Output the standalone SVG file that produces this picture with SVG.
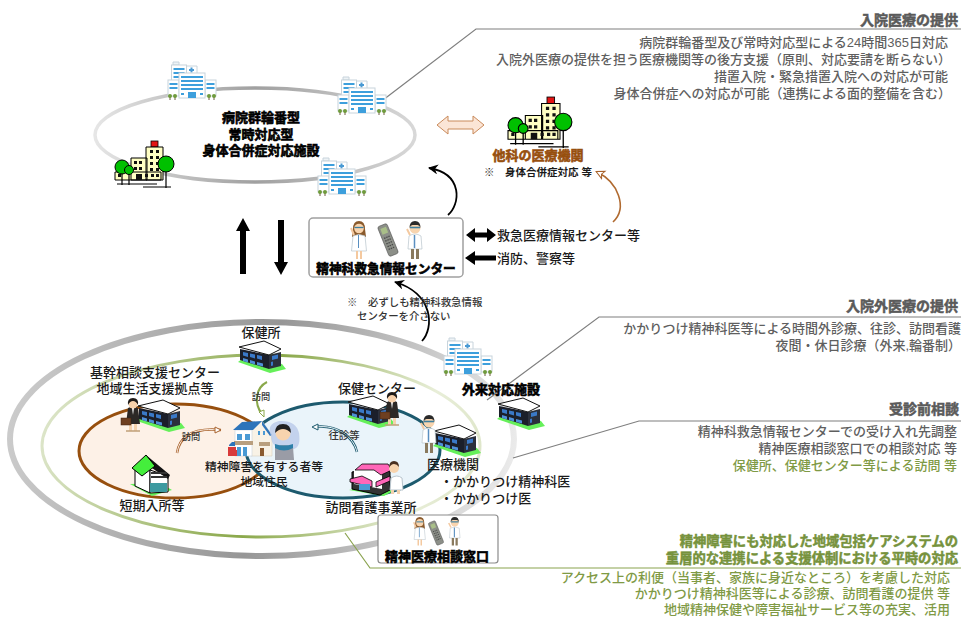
<svg xmlns="http://www.w3.org/2000/svg" width="961" height="617" viewBox="0 0 961 617">
<style>
text{font-family:"Liberation Sans","Noto Sans CJK JP",sans-serif;fill:#1a1a1a;font-size:13px;font-weight:500}
.e{text-anchor:end}.m{text-anchor:middle}
.g{fill:#5f5f5f}.gh{fill:#5a5a5a;font-weight:700;stroke:#5a5a5a;stroke-width:.5px;font-size:14px}
.l{fill:#7f9a45}.lh{fill:#76923c;font-weight:700;stroke:#76923c;stroke-width:.5px;font-size:13.3px}
.b{font-weight:700;fill:#000;stroke:#000;stroke-width:.6px;font-size:13px}
.s{font-size:10.4px;fill:#333}.x{font-size:9.2px;fill:#333}
.c{fill:none;stroke:#7f7f7f;stroke-width:1.2}
</style>
<defs>
<linearGradient id="g1" gradientUnits="userSpaceOnUse" x1="95" y1="0" x2="415" y2="0"><stop offset="0" stop-color="#e6e6e6"/><stop offset=".5" stop-color="#a0a0a0"/><stop offset="1" stop-color="#d8d8d8"/></linearGradient>
<linearGradient id="g2" gradientUnits="userSpaceOnUse" x1="9" y1="400" x2="515" y2="480"><stop offset="0" stop-color="#cccccc"/><stop offset=".5" stop-color="#969696"/><stop offset="1" stop-color="#ececec"/></linearGradient>
<linearGradient id="g3" gradientUnits="userSpaceOnUse" x1="42" y1="400" x2="480" y2="500"><stop offset="0" stop-color="#dfe7cd"/><stop offset=".5" stop-color="#8aa84a"/><stop offset=".85" stop-color="#e8eed8"/><stop offset="1" stop-color="#dde5c8"/></linearGradient>
<marker id="ab" markerUnits="userSpaceOnUse" markerWidth="12" markerHeight="12" refX="9" refY="5" orient="auto"><path d="M0,0L10,5L0,10L3,5Z" fill="#000"/></marker>
<marker id="ao" markerUnits="userSpaceOnUse" markerWidth="12" markerHeight="12" refX="8" refY="5" orient="auto"><path d="M1,1L9,5L1,9L3,5Z" fill="#fff" stroke="#a8622c"/></marker>
<symbol id="hosp" viewBox="0 0 48 38" width="48" height="38" overflow="visible">
<path d="M18,4h11v8h-11z" fill="#fff" stroke="#c8d4dc"/><path d="M22.500,5.500h2v1.500h1.500v2h-1.500v1.500h-2v-1.500h-1.500v-2h1.500z" fill="#4a9ad4"/>
<path d="M5,0h6v3h-6z" fill="#eef3f6" stroke="#c8d4dc"/>
<rect x="3.500" y="3" width="15" height="28" fill="#fff" stroke="#c8d4dc"/>
<path d="M5.500,7h11M5.500,11h11M5.500,15h11M5.500,19h11M5.500,23h11" stroke="#3d9fdc" stroke-width="2"/>
<rect x="0" y="18" width="11" height="16" fill="#fff" stroke="#c8d4dc"/><rect x="37" y="18" width="11" height="16" fill="#fff" stroke="#c8d4dc"/>
<path d="M1.500,22h8M1.500,26h8M38.500,22h8M38.500,26h8" stroke="#3d9fdc" stroke-width="2"/>
<rect x="11" y="11" width="26" height="25" fill="#fff" stroke="#c8d4dc"/>
<path d="M13,15h22M13,19h22M13,23h22M13,27h22" stroke="#3d9fdc" stroke-width="2"/>
<rect x="20" y="30" width="8" height="6" fill="#3d9fdc"/><path d="M13,31h3v2h-3zM32,31h3v2h-3z" fill="#3d9fdc"/>
<path d="M2,34v4M7,34v4M41,34v4M46,34v4" stroke="#6b5b3c"/>
<g fill="#6f9b3c"><circle cx="2" cy="34" r="2"/><circle cx="7" cy="34" r="2"/><circle cx="41" cy="34" r="2"/><circle cx="46" cy="34" r="2"/></g>
</symbol>
<symbol id="tree" viewBox="0 0 60 47" overflow="visible">
<rect x="36" y="0" width="7" height="6" fill="#e31414" stroke="#000" stroke-width=".8"/>
<path d="M31,39V6h17v33zM16,39V17h16v22zM0,39V31h46v8z" fill="#ffffc4" stroke="#000"/>
<g fill="#111"><path d="M35,9h3v3h-3zM41,9h3v3h-3zM35,15h3v3h-3zM41,15h3v3h-3zM35,21h3v3h-3zM41,21h3v3h-3zM35,27h3v3h-3zM41,27h3v3h-3zM19,20h3v3h-3zM24,20h3v3h-3zM19,26h3v3h-3zM24,26h3v3h-3zM3,33h3v3h-3zM30,33h3v3h-3zM36,33h3v3h-3zM41,33h3v3h-3z"/><path d="M21,33h6v6h-6z"/></g>
<path d="M7,30v14M14,30v14M51,28v19M2,43h40M28,46h28" stroke="#000" stroke-width="1.200"/>
<g fill="#00c000" stroke="#000"><circle cx="7" cy="26" r="7"/><circle cx="14" cy="29" r="4.500"/><circle cx="51" cy="23" r="8"/></g>
</symbol>
<symbol id="office" viewBox="0 0 48 32" width="48" height="32" overflow="visible">
<path d="M0,21L32,32L48,28L44,23L8,15Z" fill="#66f05a"/>
<path d="M2,8L31,14V28L2,19Z" fill="#1b1f2a"/><path d="M31,14L43,11V25L31,28Z" fill="#2b303c"/>
<path d="M1,6L26,0L43,8L31,14Z" fill="#fff" stroke="#111"/>
<g fill="#3a79c8"><path d="M5,11l5,1v4l-5,-1.400zM12,12.500l5,1v4l-5,-1.400zM19,14l5,1v4l-5,-1.400zM34,15l6,-1.500v4l-6,1.500zM33,21l2,-.5v4l-2,.5z"/><path d="M5,17l5,1.500v3l-5,-1.500zM12,19l5,1.500v3l-5,-1.500zM19,21l6,1.500v3l-6,-1.500z" fill="#4f8fd8"/></g>
</symbol>
<symbol id="docM" viewBox="0 0 18 40" width="18" height="40" overflow="visible">
<path d="M3,15q6,-4 12,0l1,13h-14z" fill="#fff" stroke="#b8c4cc" stroke-width=".7"/><path d="M8.500,14v13" stroke="#5a8fc0" stroke-width="1.500"/>
<path d="M4,14L1,8" stroke="#f4c9a0" stroke-width="2"/>
<path d="M5,28h3v10h-3zM10,28h3v10h-3z" fill="#8a7a5e"/>
<circle cx="9" cy="7" r="5.500" fill="#f8d4ae"/><path d="M3.500,7q0,-7 5.500,-7t5.500,7q-1,-3 -3,-3h-5q-2,0 -3,3z" fill="#2a2a2a"/>
<path d="M4,6.500h10" stroke="#3d7f9f" stroke-width="1.600"/>
</symbol>
<symbol id="docF" viewBox="0 0 18 40" width="18" height="40" overflow="visible">
<path d="M3,8q0,-8 6,-8t6,8l1,8h-14z" fill="#8a5a2c"/>
<path d="M3,15q6,-3 12,0l1.500,15h-15z" fill="#fff" stroke="#b8c4cc" stroke-width=".7"/><path d="M8.500,14v13" stroke="#5a8fc0"/>
<path d="M4,14L1,7" stroke="#f4c9a0" stroke-width="2"/>
<path d="M6,30h2v8h-2zM10,30h2v8h-2z" fill="#f4c9a0"/>
<circle cx="9" cy="7.500" r="4.800" fill="#f8d4ae"/><path d="M4.500,6.500h9" stroke="#3d7f9f" stroke-width="1.300"/>
</symbol>
<symbol id="suit" viewBox="0 0 24 34" width="24" height="34" overflow="visible">
<path d="M7,10q5,-3 10,0l2,16h-14z" fill="#2c2826"/><path d="M11,10l1,7l1,-7z" fill="#fff"/>
<path d="M8,26h3v7h-3zM13,26h3v7h-3z" fill="#f4d2ae"/><path d="M5,33h8M12,33h7" stroke="#c0a07a" stroke-width="1.500"/>
<rect x="0" y="20" width="10" height="7" fill="#6e3f20" stroke="#3c2210" stroke-width=".5"/>
<circle cx="12" cy="6" r="4.500" fill="#f6d0aa"/><path d="M7,7q-1,-7 5,-7t5,7q-2,-4 -5,-4t-5,4z" fill="#1e1a18"/>
</symbol>
<symbol id="phone" viewBox="0 0 16 32" width="16" height="32" overflow="visible">
<g transform="rotate(-22 8 16)"><rect x="3" y="0" width="10" height="32" rx="2" fill="#8c8f88" stroke="#555" stroke-width=".6"/><rect x="5" y="3" width="6" height="6" fill="#a9bf88"/><path d="M5,13h6M5,16h6M5,19h6M5,22h6M5,25h6" stroke="#4a4a4a" stroke-width="1.300" stroke-dasharray="1.500 .8"/></g>
</symbol>
</defs>

<g id="rings">
<ellipse cx="255" cy="135" rx="160" ry="47" fill="#fff" stroke="url(#g1)" stroke-width="3.500"/>
<ellipse cx="262" cy="439" rx="252" ry="117" fill="#fff" stroke="url(#g2)" stroke-width="6"/>
<ellipse cx="261" cy="446" rx="219" ry="91" fill="#fff" stroke="url(#g3)" stroke-width="3"/>
<ellipse cx="175" cy="451" rx="96" ry="47" fill="#fdf1e7" stroke="#974f0e" stroke-width="3"/>
<ellipse cx="343" cy="450" rx="97" ry="48" fill="#eaf4fa" stroke="#1d5a6e" stroke-width="3"/>
</g>

<g id="connectors">
<path class="c" d="M383,100L476,29H961"/>
<path class="c" d="M487,400L599,317H961"/>
<path class="c" d="M513,458L639,421H961"/>
<path class="c" d="M345,533L370,568H961" style="stroke:#8aa34f"/>
<path d="M448,215C460,205 464,174 429,168" fill="none" stroke="#000" stroke-width="1.800" marker-end="url(#ab)"/>
<path d="M422,341C434,328 434,294 395,282" fill="none" stroke="#000" stroke-width="1.800" marker-end="url(#ab)"/>
<path d="M613,222C628,208 618,182 597,172" fill="none" stroke="#b06a30" stroke-width="1.600" marker-end="url(#ao)"/>
<path d="M437,125l11,-9v5h25v-5l11,9l-11,9v-5h-25v5z" fill="#fbe5d6" stroke="#c98a5a"/>
<path d="M243,218l7,13h-4v43h-6v-43h-4z" fill="#000"/>
<path d="M281,275l-7,-13h4v-42h6v42h4z" fill="#000"/>
<path d="M466,235l9,-7v4.500h12v-4.500l9,7l-9,7v-4.500h-12v4.500z" fill="#000"/>
<path d="M465,258l10,-7v4.500h21v5h-21v4.500z" fill="#000"/>
<path d="M177,453C179,440 188,427 221,430" fill="none" stroke="#a8622c" stroke-width="2.500"/>
<path d="M177,453C179,440 188,427 219,430" fill="none" stroke="#fdf1e7" stroke-width="1"/>
<path d="M221,430l-6,-3v6z" fill="#fff" stroke="#a8622c"/>
<path d="M267,382C255,388 254,404 262,414" fill="none" stroke="#8aa84a" stroke-width="2"/>
<path d="M264,417l-5,-5l5,-2z" fill="#fff" stroke="#8aa84a"/>
<path d="M357,452C354,438 338,424 314,427" fill="none" stroke="#1d5a6e" stroke-width="2.500"/>
<path d="M357,452C354,438 338,424 316,427" fill="none" stroke="#eaf4fa" stroke-width="1"/>
<path d="M312,427l6,-3v6z" fill="#fff" stroke="#1d5a6e"/>
</g>

<g id="hospital-1"><use href="#hosp" x="168" y="62"/></g>
<g id="hospital-2"><use href="#hosp" x="338" y="77"/></g>
<g id="hospital-3"><use href="#hosp" x="318" y="158"/></g>
<g id="hospital-4"><use href="#tree" x="115" y="141" width="60" height="47"/></g>
<g id="acute-label"><text class="b m" x="261" y="122">病院群輪番型</text><text class="b m" x="261" y="139">常時対応型</text><text class="b m" x="261" y="155">身体合併症対応施設</text></g>

<g id="other-hospital"><use href="#tree" x="508" y="97" width="65" height="51"/>
<text class="b m" x="538" y="160" style="fill:#974f0e;stroke:#974f0e">他科の医療機関</text>
<text x="484" y="176" style="font-size:10.500px">※</text><text x="505" y="176" style="font-size:10.500px;font-weight:700">身体合併症対応 等</text></g>

<g id="emergency-center">
<rect x="309" y="218" width="154" height="59" rx="4" fill="#fff" stroke="#a0a0a0" stroke-width="1.500"/>
<use href="#docF" x="350" y="221"/><use href="#phone" x="380" y="224"/><use href="#docM" x="406" y="221"/>
<text class="b m" x="386" y="273" style="font-size:12.700px">精神科救急情報センター</text></g>
<g id="links"><text x="497" y="240">救急医療情報センター等</text><text x="497" y="263">消防、警察等</text></g>
<g id="note"><text class="s" x="347" y="306">※</text><text class="s" x="368" y="306">必ずしも精神科救急情報</text><text class="s" x="357" y="320">センターを介さない</text></g>

<g id="hokenjo"><text class="m" x="261" y="337">保健所</text><use href="#office" x="238" y="341"/></g>
<g id="kikan"><use href="#office" x="137" y="400"/><use href="#suit" x="121" y="398"/>
<text class="m" x="155" y="377">基幹相談支援センター</text><text class="m" x="155" y="393">地域生活支援拠点等</text></g>
<g id="short-stay">
<path d="M130,484L152,496L172,490L160,483Z" fill="#66f05a"/>
<path d="M135,469L146,459L150,470V493L135,486Z" fill="#fff" stroke="#000"/>
<path d="M150,470L168,476V492L150,493Z" fill="#fff" stroke="#000"/>
<path d="M146,455L170,475L168,479L149,466Z" fill="#111"/><path d="M132,468L146,455L155,466L142,476Z" fill="#44ee3c" stroke="#000"/>
<path d="M151,473h16M151,477h16" stroke="#333" stroke-width="2"/><rect x="150" y="483" width="17" height="9" fill="#3d9aa0"/>
<text class="m" x="152" y="510">短期入所等</text></g>

<g id="person">
<path d="M251,430L262,421L272,435V456H251Z" fill="#f8f2e6" stroke="#d8d0c0" stroke-width=".6"/>
<rect x="235" y="430" width="17" height="26" fill="#fff" stroke="#c8d4dc" stroke-width=".6"/>
<path d="M233,430L242,422L262,421L253,430Z" fill="#2d74ba"/><path d="M262,421L272,435L270,436L262,425Z" fill="#2d74ba"/>
<path d="M237,434h5v6h-5zM245,434h5v6h-5zM258,431h2v4h-2zM263,431h2v4h-2z" fill="#4a9ad4"/><path d="M234,441h19v4h-19z" fill="#b99f7e"/><path d="M237,447h4v9h-4zM243,447h4v9h-4z" fill="#4a9ad4"/>
<path d="M259,442h11v4h-11z" fill="#b99f7e"/><path d="M260,448h4v8h-4z" fill="#8a5a30"/>
<path d="M228,447h8v3h-8zM228,450h9v6h-9z" fill="#d93a3a"/><path d="M229,445l3,-3h3v4h-6z" fill="#2d74ba"/>
<path d="M271,436Q266,424 279,421Q296,420 299,433Q301,447 294,449Q282,451 275,446Q271,442 271,436Z" fill="#b9c9ea" opacity=".8"/>
<path d="M275,460V447q9,-4 18,0l1,13z" fill="#9a9ca6"/><path d="M275,444q9,3 18,0v4q-9,5 -18,0z" fill="#2d7fa8"/>
<circle cx="283" cy="433" r="7.500" fill="#f8d4ae"/><path d="M275,433q0,-9 8,-9t8,9q-4,-4 -8,-4t-8,4z" fill="#222"/>
<text class="m" x="264" y="471" style="font-size:11.800px">精神障害を有する者等</text><text class="m" x="264" y="486" style="font-size:11.800px">地域住民</text></g>

<g id="center"><text class="m" x="377" y="393">保健センター</text><use href="#office" x="347" y="396"/><use href="#suit" x="380" y="392"/></g>
<g id="clinic"><use href="#office" x="433" y="425"/><use href="#docM" x="420" y="415"/>
<text x="427" y="469">医療機関</text><text x="440" y="486">・かかりつけ精神科医</text><text x="440" y="503">・かかりつけ医</text></g>
<g id="nursing">
<path d="M349,490L384,496L395,490L380,484Z" fill="#66f05a"/>
<path d="M352,472L382,466L390,472V490L380,495L352,489Z" fill="#333" stroke="#000"/>
<path d="M354,470h20l8,-1v20l-28,-5z" fill="#fff"/>
<path d="M355,470L362,464H388L392,470L381,475L374,470Z" fill="#ff66b8" stroke="#000" stroke-width=".8"/><path d="M350,479L362,476L372,481V487L350,482ZM376,482L390,476V481L376,487Z" fill="#ff66b8" stroke="#000" stroke-width=".8"/>
<rect x="359" y="484" width="11" height="6" fill="#4a9ad4"/>
<path d="M391,478q6,-4 11,0l1,12h-13z" fill="#fff" stroke="#b8c4cc"/><circle cx="394" cy="468" r="5" fill="#f8d4ae"/><path d="M389,468q0,-7 5,-7t5,6q-2,-3 -5,-3t-5,4z" fill="#4a3020"/><path d="M391,490h3v4h-3zM397,490h3v4h-3z" fill="#f4d2ae"/>
<text class="m" x="371" y="512">訪問看護事業所</text></g>
<g id="labels-small"><text class="x m" x="261" y="400">訪問</text><text class="x m" x="191" y="440">訪問</text><text class="s m" x="344" y="439">往診等</text></g>

<g id="outpatient"><use href="#hosp" x="444" y="338"/><use href="#office" x="497" y="398"/>
<text class="b m" x="501" y="394">外来対応施設</text></g>
<g id="consult">
<rect x="378" y="515" width="120" height="48" rx="3" fill="#fff" stroke="#8c8c8c" stroke-width="1.200"/>
<use href="#docF" transform="translate(413 517) scale(.75)"/><use href="#phone" transform="translate(430 521) scale(.75)"/><use href="#docM" transform="translate(448 517) scale(.75)"/>
<text class="b m" x="437" y="561">精神医療相談窓口</text></g>

<g id="info-inpatient">
<text class="gh e" x="958" y="25">入院医療の提供</text>
<text class="g e" x="948" y="47">病院群輪番型及び常時対応型による24時間365日対応</text>
<text class="g e" x="951" y="64">入院外医療の提供を担う医療機関等の後方支援（原則、対応要請を断らない）</text>
<text class="g e" x="948" y="81">措置入院・緊急措置入院への対応が可能</text>
<text class="g e" x="951" y="98">身体合併症への対応が可能（連携による面的整備を含む）</text></g>
<g id="info-outpatient">
<text class="gh e" x="958" y="311">入院外医療の提供</text>
<text class="g e" x="961" y="333">かかりつけ精神科医等による時間外診療、往診、訪問看護</text>
<text class="g e" x="961" y="350">夜間・休日診療（外来,輪番制）</text></g>
<g id="info-consult">
<text class="gh e" x="959" y="414">受診前相談</text>
<text class="g e" x="957" y="436">精神科救急情報センターでの受け入れ先調整</text>
<text class="g e" x="957" y="453">精神医療相談窓口での相談対応 等</text>
<text class="l e" x="957" y="470">保健所、保健センター等による訪問 等</text></g>
<g id="info-community">
<text class="lh e" x="958" y="546">精神障害にも対応した地域包括ケアシステムの</text>
<text class="lh e" x="958" y="563">重層的な連携による支援体制における平時の対応</text>
<text class="l e" x="950" y="582">アクセス上の利便（当事者、家族に身近なところ）を考慮した対応</text>
<text class="l e" x="950" y="598">かかりつけ精神科医等による診療、訪問看護の提供 等</text>
<text class="l e" x="950" y="614">地域精神保健や障害福祉サービス等の充実、活用</text></g>
</svg>
